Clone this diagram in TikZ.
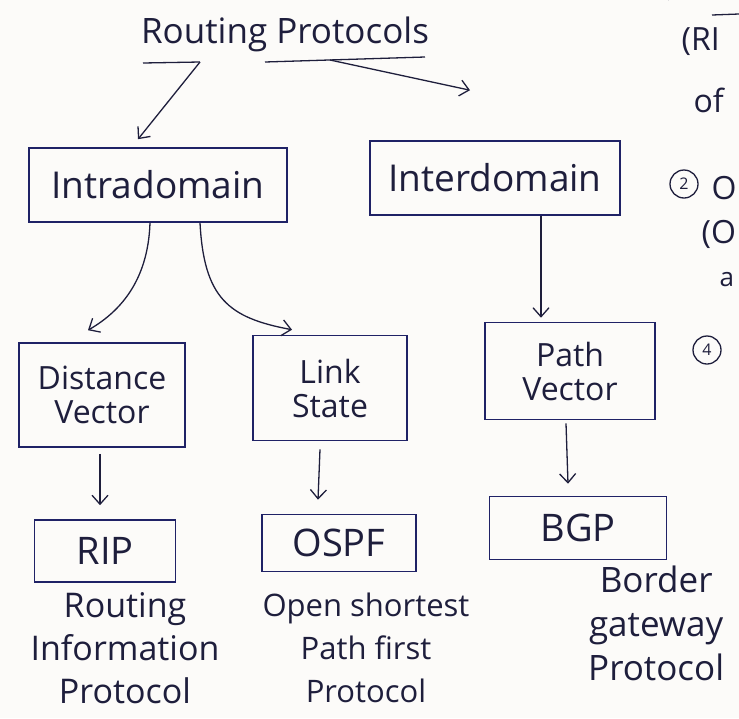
\documentclass[tikz,border=0pt]{standalone}
\usepackage{fontspec}
\setmainfont{Open Sans}
\usetikzlibrary{arrows.meta,calc}
\definecolor{ink}{HTML}{1F2266}
\definecolor{pen}{HTML}{1E1E3C}
\definecolor{paper}{HTML}{FCFBF9}
\begin{document}
\begin{tikzpicture}[x=1pt,y=-1pt,
  box/.style={draw=ink,line width=1.6pt,text=pen,align=center,inner sep=0pt},
  arr/.style={draw=pen,line width=1.3pt,-{Straight Barb[length=9pt,width=16pt]}},
  rule/.style={draw=pen,line width=1.3pt},
  head/.style={font=\fontsize{35}{42}\selectfont},
  big/.style={font=\fontsize{37}{42}\selectfont},
  mid/.style={font=\fontsize{32}{40}\selectfont},
  short/.style={font=\fontsize{38}{40}\selectfont},
  side/.style={text=pen,font=\fontsize{32}{40}\selectfont,anchor=west},
  note/.style={text=pen,align=center}]
\fill[paper] (0,0) rectangle (739,718);
\useasboundingbox (0,0) rectangle (739,718);

% heading with its underline
\node[text=pen,head] (title) at (285,34) {Routing Protocols};
\coordinate (ulA) at (143,63);
\coordinate (ulB) at (200,62);
\coordinate (ulC) at (265,62);
\coordinate (ulD) at (330,60);
\coordinate (ulE) at (425,57);
\draw[rule] (ulA) -- (ulB);
\draw[rule] (ulC) -- (ulE);

% first level
\node[box,big,minimum width=258,minimum height=74] (intra) at (158,185) {Intradomain};
\node[box,big,minimum width=250,minimum height=74] (inter) at (495,178) {Interdomain};

% second level
\node[box,mid,minimum width=166,minimum height=104] (dv) at (102,395) {Distance\\[-6pt]Vector};
\node[box,mid,minimum width=154,minimum height=105] (ls) at (330,388) {Link\\[-6pt]State};
\node[box,mid,minimum width=170,minimum height=97] (pv) at (570,371) {Path\\[-6pt]Vector};

% protocols
\node[box,short,minimum width=141,minimum height=62] (rip) at (105,551) {RIP};
\node[box,short,minimum width=154,minimum height=57] (ospf) at (339,543) {OSPF};
\node[box,short,minimum width=177,minimum height=63] (bgp) at (578,528) {BGP};

% full names
\node[note,font=\fontsize{34}{43}\selectfont] (ripname) at (125,648) {Routing\\Information\\Protocol};
\node[note,font=\fontsize{31}{43}\selectfont] (ospfname) at (366,648) {Open shortest\\Path first\\Protocol};
\node[note,font=\fontsize{35}{44}\selectfont,anchor=north west,inner sep=0pt] (bgpname) at (588,566) {Border\\gateway\\Protocol};

% connectors
\draw[arr] (ulB) -- ($(intra.north)+(-20,-8)$);
\draw[arr] (ulD) -- ($(inter.north)+(-25,-50)$);
\draw[arr] ($(intra.south)+(-8,0)$) .. controls ($(intra.south)+(-10,60)$) and ($(intra.south)+(-40,90)$) .. ($(dv.north)+(-14,-12)$);
\draw[arr] ($(intra.south)+(42,0)$) .. controls ($(intra.south)+(46,75)$) and ($(intra.south)+(70,95)$) .. ($(ls.north)+(-38,-5)$);
\draw[arr] ($(inter.south)+(46,0)$) -- ($(pv.north)+(-29,-4)$);
\draw[arr] ($(dv.south)+(-2,6)$) -- ($(rip.north)+(-5,-14)$);
\draw[arr] ($(ls.south)+(-10,8)$) -- ($(ospf.north)+(-21,-14)$);
\draw[arr] ($(pv.south)+(-4,3)$) -- ($(bgp.north)+(-10,-12)$);

% margin notes running off the page
\begin{scope}
\clip (0,0) rectangle (739,718);
\node[side] (m1) at (678,42) {(RI};
\node[side] (m2) at (690,100) {of};
\node[side] (m3) at (708,188) {O};
\node[side] (m4) at (698,234) {(O};
\node[side,font=\fontsize{26}{30}\selectfont] (m5) at (716,280) {a};
\draw[pen,line width=1.3pt] (684,184) circle (14);
\node[text=pen,font=\fontsize{16}{16}\selectfont] (c2) at (684,184) {2};
\draw[pen,line width=1.3pt] (707,350) circle (14);
\node[text=pen,font=\fontsize{16}{16}\selectfont] (c4) at (707,350) {4};
\draw[rule] (712,15) -- (739,14);
\draw[pen,line width=1.3pt] (668,0) arc (200:250:40);
\end{scope}
\end{tikzpicture}
\end{document}
